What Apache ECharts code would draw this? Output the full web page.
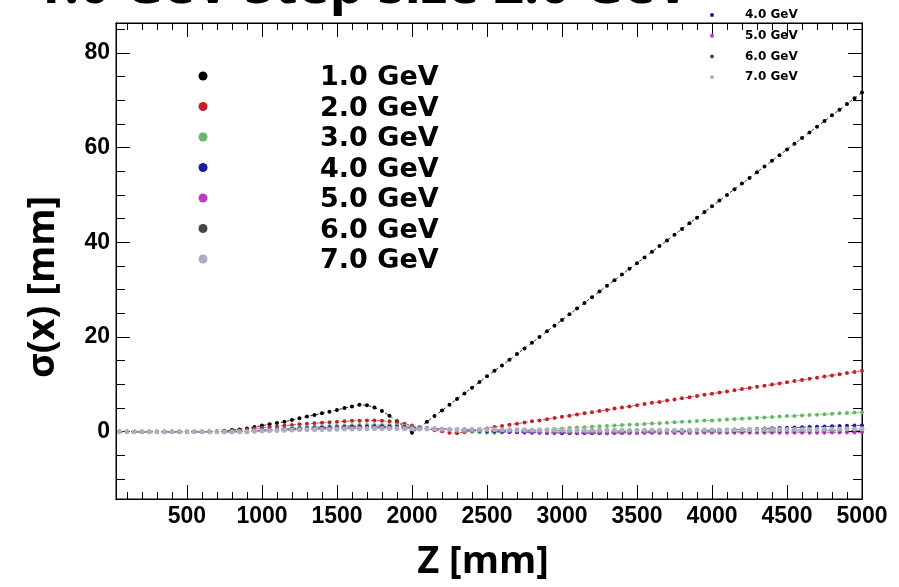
<!DOCTYPE html>
<html>
<head>
<meta charset="utf-8">
<script src="https://cdn.jsdelivr.net/npm/echarts@6/dist/echarts.min.js"></script>
<style>html,body{margin:0;padding:0;background:#fff}#c{width:899px;height:587px}</style>
</head>
<body>
<div id="c"></div>
<script>
// ---- data ----
const zValues = [50,100,150,200,250,300,350,400,450,500,550,600,650,700,750,800,850,900,950,1000,
1050,1100,1150,1200,1250,1300,1350,1400,1450,1500,1550,1600,1650,1700,1750,1800,1850,1900,1950,2000,
2050,2100,2150,2200,2250,2300,2350,2400,2450,2500,2550,2600,2650,2700,2750,2800,2850,2900,2950,3000,
3050,3100,3150,3200,3250,3300,3350,3400,3450,3500,3550,3600,3650,3700,3750,3800,3850,3900,3950,4000,
4050,4100,4150,4200,4250,4300,4350,4400,4450,4500,4550,4600,4650,4700,4750,4800,4850,4900,4950,5000];

const seriesNames = ['1.0 GeV','2.0 GeV','3.0 GeV','4.0 GeV','5.0 GeV','6.0 GeV','7.0 GeV'];

const sigma1 = [0,0,0,0,0,0,0,0,0,0,0,0,
0.05,0.1,0.2,0.35,0.5,0.7,1.0,1.3,1.6,1.85,2.1,2.5,2.85,3.2,3.55,3.9,4.2,4.6,5.0,5.35,5.7,5.6,5.1,4.4,3.4,2.2,1.0,-0.2,
0.9,2.1,3.3,4.5,5.7,6.9,8.1,9.3,10.5,11.7,
12.9,14.0,15.2,16.4,17.6,18.8,20.0,21.2,22.4,23.6,
24.8,26.0,27.2,28.4,29.6,30.8,32.0,33.2,34.4,35.6,
36.8,38.0,39.2,40.4,41.6,42.8,44.0,45.2,46.4,47.6,
48.8,50.0,51.2,52.4,53.6,54.8,56.0,57.2,58.4,59.6,
60.8,62.0,63.2,64.4,65.6,66.8,68.0,69.2,70.4,71.6];

const sigma2 = [0,0,0,0,0,0,0,0,0,0,0,0,0,0,0,
0.1,0.3,0.5,0.7,0.8,1.0,1.1,1.3,1.4,1.6,1.7,1.8,1.9,2.0,2.1,2.2,2.3,2.3,2.4,2.4,2.3,2.2,2.0,1.7,1.3,
0.9,0.6,0.3,0.1,-0.2,-0.3,-0.1,0.2,0.5,0.7,
1.0,1.2,1.5,1.7,1.95,2.2,2.4,2.65,2.9,3.15,
3.4,3.65,3.9,4.1,4.4,4.6,4.9,5.1,5.35,5.6,
5.85,6.1,6.3,6.6,6.8,7.05,7.3,7.55,7.8,8.0,
8.3,8.5,8.75,9.0,9.25,9.5,9.7,9.95,10.2,10.45,
10.7,10.9,11.2,11.4,11.65,11.9,12.15,12.4,12.6,12.9];

const sigma3 = [0,0,0,0,0,0,0,0,0,0,0,0,0,0,0,0,
0.1,0.2,0.3,0.4,0.5,0.6,0.7,0.8,0.9,1.0,1.05,1.1,1.2,1.25,1.3,1.35,1.4,1.45,1.45,1.45,1.4,1.35,1.25,1.1,
0.95,0.8,0.65,0.5,0.35,0.2,0.1,0.0,-0.1,-0.2,
-0.2,-0.15,-0.05,0.05,0.15,0.3,0.4,0.5,0.6,0.7,
0.8,0.9,0.95,1.05,1.15,1.2,1.3,1.4,1.5,1.55,
1.65,1.75,1.8,1.9,2.0,2.1,2.15,2.25,2.35,2.4,
2.5,2.6,2.7,2.75,2.85,2.95,3.0,3.1,3.2,3.3,
3.35,3.45,3.55,3.6,3.7,3.8,3.9,3.95,4.05,4.1];

const sigma4 = [0,0,0,0,0,0,0,0,0,0,0,0,0,0,0,0,0,
0.1,0.2,0.3,0.4,0.5,0.55,0.6,0.7,0.75,0.8,0.85,0.9,0.95,1.0,1.05,1.1,1.1,1.15,1.15,1.1,1.05,1.0,0.95,
0.85,0.75,0.7,0.6,0.5,0.4,0.35,0.25,0.2,0.1,
0.05,0.0,-0.05,-0.1,-0.15,-0.2,-0.2,-0.25,-0.25,-0.3,
-0.3,-0.3,-0.3,-0.3,-0.3,-0.3,-0.25,-0.25,-0.2,-0.2,
-0.15,-0.1,-0.05,0.0,0.05,0.1,0.15,0.2,0.25,0.3,
0.35,0.4,0.45,0.5,0.55,0.6,0.7,0.75,0.8,0.85,
0.9,0.95,1.0,1.05,1.1,1.15,1.2,1.25,1.3,1.35];

const sigma5 = [0,0,0,0,0,0,0,0,0,0,0,0,0,0,0,0,0,0,
0.1,0.2,0.25,0.3,0.4,0.45,0.5,0.55,0.6,0.65,0.7,0.75,0.8,0.8,0.85,0.85,0.9,0.9,0.85,0.85,0.8,0.8,
0.75,0.7,0.65,0.6,0.55,0.5,0.45,0.4,0.35,0.3,
0.25,0.2,0.15,0.1,0.05,0.0,-0.05,-0.05,-0.1,-0.1,
-0.15,-0.15,-0.2,-0.2,-0.2,-0.2,-0.25,-0.25,-0.25,-0.25,
-0.25,-0.25,-0.25,-0.25,-0.25,-0.25,-0.25,-0.25,-0.2,-0.2,
-0.2,-0.2,-0.2,-0.2,-0.2,-0.2,-0.2,-0.2,-0.2,-0.2,
-0.2,-0.2,-0.2,-0.2,-0.2,-0.15,-0.15,-0.15,-0.15,-0.15];

const sigma6 = [0,0,0,0,0,0,0,0,0,0,0,0,0,0,0,0,0,0,
0.1,0.15,0.2,0.25,0.3,0.35,0.4,0.45,0.5,0.55,0.6,0.6,0.65,0.7,0.7,0.75,0.75,0.75,0.75,0.7,0.7,0.65,
0.6,0.6,0.55,0.55,0.5,0.5,0.45,0.45,0.4,0.4,
0.35,0.35,0.3,0.3,0.3,0.25,0.25,0.25,0.2,0.2,
0.2,0.2,0.15,0.15,0.15,0.15,0.1,0.1,0.1,0.1,
0.1,0.1,0.1,0.1,0.1,0.1,0.1,0.1,0.1,0.1,
0.1,0.1,0.1,0.1,0.1,0.15,0.15,0.15,0.15,0.15,
0.15,0.15,0.2,0.2,0.2,0.2,0.2,0.25,0.25,0.25];

const sigma7 = [0,0,0,0,0,0,0,0,0,0,0,0,0,0,0,0,0,0,
0.1,0.15,0.2,0.25,0.3,0.35,0.4,0.4,0.45,0.5,0.5,0.55,0.6,0.6,0.65,0.65,0.7,0.7,0.7,0.7,0.65,0.65,
0.6,0.6,0.6,0.55,0.55,0.5,0.5,0.5,0.45,0.45,
0.45,0.4,0.4,0.4,0.4,0.35,0.35,0.35,0.35,0.35,
0.3,0.3,0.3,0.3,0.3,0.3,0.3,0.3,0.3,0.3,
0.3,0.3,0.3,0.3,0.3,0.3,0.3,0.35,0.35,0.35,
0.35,0.35,0.4,0.4,0.4,0.4,0.45,0.45,0.45,0.45,
0.5,0.5,0.5,0.5,0.55,0.55,0.55,0.6,0.6,0.6];

const xMajorTicks = [500,1000,1500,2000,2500,3000,3500,4000,4500,5000];
const xMinorTicks = [100,200,300,400,600,700,800,900,1100,1200,1300,1400,1600,1700,1800,1900,
2100,2200,2300,2400,2600,2700,2800,2900,3100,3200,3300,3400,3600,3700,3800,3900,
4100,4200,4300,4400,4600,4700,4800,4900];
const yMajorTicks = [0,20,40,60,80];
const yMinorTicks = [-10,-5,5,10,15,25,30,35,45,50,55,65,70,75,85];

// ---- style ----
const allSigma = [sigma1,sigma2,sigma3,sigma4,sigma5,sigma6,sigma7];
const colors = ['#000000','#c8202a','#66b866','#1c1ca0','#c03cc0','#474747','#aeaec0'];
const symSizes = [4,4,4,4,4,4,5];
const X_MIN = 27, X_MAX = 5000, Y_MIN = -14.2, Y_MAX = 86.3;
const labelFont = {color:'#000', fontFamily:'Liberation Sans', fontWeight:'bold', fontSize:23};

function xAx(pos, ticks, len, withLabels, extra) {
  return Object.assign({
    type:'value', position:pos, min:X_MIN, max:X_MAX,
    axisLine:{show:true, onZero:false, lineStyle:{color:'#000', width:1}},
    axisTick:{show:true, inside:true, length:len, customValues:ticks, lineStyle:{color:'#000', width:1}},
    axisLabel: withLabels ? Object.assign({show:true, customValues:ticks, margin:6, formatter:(v)=>String(v)}, labelFont) : {show:false},
    splitLine:{show:false}
  }, extra || {});
}
function yAx(pos, ticks, len, withLabels, extra) {
  return Object.assign({
    type:'value', position:pos, min:Y_MIN, max:Y_MAX,
    axisLine:{show:true, onZero:false, lineStyle:{color:'#000', width:1}},
    axisTick:{show:true, inside:true, length:len, customValues:ticks, lineStyle:{color:'#000', width:1}},
    axisLabel: withLabels ? Object.assign({show:true, customValues:ticks, margin:6, formatter:(v)=>String(v)}, labelFont) : {show:false},
    splitLine:{show:false}
  }, extra || {});
}

const series = seriesNames.map((name, i) => ({
  name: name, type:'line', xAxisIndex:0, yAxisIndex:0,
  data: zValues.map((z, k) => [z, allSigma[i][k]]),
  symbol:'circle', symbolSize:symSizes[i], showSymbol:true,
  itemStyle:{color:colors[i]},
  lineStyle:{color:colors[i], width:1, type:[3,3], opacity:0.8},
  z: 2 + i
}));

const chart = echarts.init(document.getElementById('c'), null, {renderer:'canvas'});
chart.setOption({
  animation:false,
  backgroundColor:'#fff',
  title:{
    text:'1.0 GeV Step size 2.0 GeV', left:28, top:-44,
    textStyle:{fontFamily:'Open Sans', fontWeight:'bold', fontSize:54, color:'#000'}
  },
  grid:{left:116, right:37, top:23, bottom:88, show:true, borderColor:'#000', borderWidth:1},
  legend:[
    { // main legend markers
      data:seriesNames, orient:'vertical', left:198.5, top:71.5, padding:0,
      icon:'circle', itemWidth:9, itemHeight:9, itemGap:21.5,
      formatter:() => '', textStyle:{fontSize:1, lineHeight:1}
    },
    { // main legend labels
      data:seriesNames, orient:'vertical', left:315, top:63, padding:0,
      icon:'none', itemWidth:0, itemHeight:9, itemGap:0,
      textStyle:{fontFamily:'DejaVu Sans', fontWeight:'bold', fontSize:27, lineHeight:30.5, color:'#000'}
    },
    { // corner legend markers
      data:seriesNames, orient:'vertical', left:710, top:-49, padding:0,
      icon:'circle', itemWidth:4, itemHeight:4, itemGap:16.7,
      formatter:() => '', textStyle:{fontSize:1, lineHeight:1}
    },
    { // corner legend labels
      data:seriesNames, orient:'vertical', left:740, top:-57.4, padding:0,
      icon:'none', itemWidth:0, itemHeight:4, itemGap:0,
      textStyle:{fontFamily:'DejaVu Sans', fontWeight:'bold', fontSize:12, lineHeight:20.7, color:'#000'}
    }
  ],
  xAxis:[
    xAx('bottom', xMajorTicks, 14, true, {
      name:'Z [mm]', nameLocation:'middle', nameGap:44,
      nameTextStyle:{fontFamily:'Open Sans', fontWeight:'bold', fontSize:38, color:'#000', padding:[0,12,0,0]}
    }),
    xAx('bottom', xMinorTicks, 7, false),
    xAx('top', xMajorTicks, 14, false),
    xAx('top', xMinorTicks, 7, false)
  ],
  yAxis:[
    yAx('left', yMajorTicks, 14, true, {
      name:'σ(x) [mm]', nameLocation:'middle', nameGap:54,
      nameTextStyle:{fontFamily:'Open Sans', fontWeight:'bold', fontSize:38, color:'#000', padding:[0,52,0,0]}
    }),
    yAx('left', yMinorTicks, 9, false),
    yAx('right', yMajorTicks, 14, false),
    yAx('right', yMinorTicks, 9, false)
  ],
  series: series
});
</script>
</body>
</html>
